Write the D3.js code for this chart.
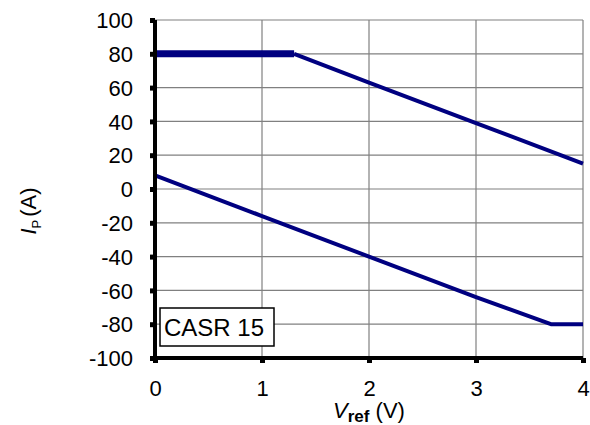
<!DOCTYPE html>
<html>
<head>
<meta charset="utf-8">
<title>CASR 15</title>
<script src="https://cdn.jsdelivr.net/npm/d3@7"></script>
<style>
  body { margin: 0; background: #fff; }
  text { font-family: "Liberation Sans", Arial, sans-serif; fill: #000; }
</style>
</head>
<body>
<script>
  var w = 590, h = 425;
  var margin = {left: 155, right: 7, top: 20, bottom: 67};

  // data
  var xTicks = [0, 1, 2, 3, 4];
  var yTicks = [-100, -80, -60, -40, -20, 0, 20, 40, 60, 80, 100];
  var upperFlatV = [0, 1.3];
  var upperFlatI = [80, 80];
  var upperSlopeV = [1.3, 2, 3, 4];
  var upperSlopeI = [80, 63, 39, 15];
  var lowerV = [0, 1, 2, 3, 3.7, 4];
  var lowerI = [8, -16, -40, -64, -80, -80];
  var labelText = "CASR 15";

  var x = d3.scaleLinear().domain([0, 4]).range([margin.left, w - margin.right]);
  var y = d3.scaleLinear().domain([-100, 100]).range([h - margin.bottom, margin.top]);

  var svg = d3.select("body").append("svg")
      .attr("width", w)
      .attr("height", h);

  // gridlines
  svg.append("g").selectAll("line.gy")
      .data(yTicks)
    .enter().append("line")
      .attr("x1", x(0)).attr("x2", x(4))
      .attr("y1", function(d) { return y(d); })
      .attr("y2", function(d) { return y(d); })
      .style("stroke", "#808080").style("stroke-width", 1.2);

  svg.append("g").selectAll("line.gx")
      .data(xTicks)
    .enter().append("line")
      .attr("y1", y(-100)).attr("y2", y(100))
      .attr("x1", function(d) { return x(d); })
      .attr("x2", function(d) { return x(d); })
      .style("stroke", "#808080").style("stroke-width", 1.2);

  function pts(vs, is) { return vs.map(function(v, i) { return [v, is[i]]; }); }
  var line = d3.line().x(function(d) { return x(d[0]); }).y(function(d) { return y(d[1]); });

  var navy = "#000080";
  svg.append("path").datum(pts(upperFlatV, upperFlatI)).attr("d", line)
      .style("fill", "none").style("stroke", navy).style("stroke-width", 7);
  svg.append("path").datum(pts(upperSlopeV, upperSlopeI)).attr("d", line)
      .style("fill", "none").style("stroke", navy).style("stroke-width", 4)
      .style("stroke-linejoin", "round");
  svg.append("path").datum(pts(lowerV, lowerI)).attr("d", line)
      .style("fill", "none").style("stroke", navy).style("stroke-width", 4)
      .style("stroke-linejoin", "round");

  // axes
  var fmt = function(d) { return String(d); };
  var yAxis = d3.axisLeft(y).tickValues(yTicks).tickFormat(fmt).tickSize(4).tickPadding(18);
  var xAxis = d3.axisBottom(x).tickValues(xTicks).tickFormat(fmt).tickSize(4).tickPadding(21);

  var gy = svg.append("g").attr("transform", "translate(" + margin.left + ",0)").call(yAxis);
  var gx = svg.append("g").attr("transform", "translate(0," + (h - margin.bottom) + ")").call(xAxis);

  [gy, gx].forEach(function(g) {
      g.select(".domain").style("stroke", "#000").style("stroke-width", 4);
      g.selectAll(".tick line").style("stroke", "#000").style("stroke-width", 5);
      g.selectAll(".tick text").style("fill", "#000")
          .style("font-family", "'Liberation Sans', Arial, sans-serif")
          .style("font-size", "22px");
  });
  gy.selectAll(".tick text").attr("dy", "0.35em");
  gx.selectAll(".tick text").attr("dy", null).attr("y", 38);
  gy.select(".domain").attr("d", "M0," + y(100) + "V" + y(-100));
  gx.select(".domain").attr("d", "M" + x(0) + ",0H" + x(4));
  gy.selectAll(".tick line").attr("x2", -5);
  gx.selectAll(".tick line").attr("y2", 5);

  // label box
  var bx = 160, by = 308;
  svg.append("rect").attr("x", bx).attr("y", by).attr("width", 114).attr("height", 38)
      .style("fill", "#fff").style("stroke", "#000").style("stroke-width", 1.5);
  svg.append("text").attr("x", bx + 54).attr("y", by + 28)
      .attr("text-anchor", "middle").style("font-size", "24px").text(labelText);

  // axis titles
  var xt = svg.append("text").attr("x", 369).attr("y", 418).attr("text-anchor", "middle")
      .style("font-size", "22px");
  xt.append("tspan").style("font-style", "italic").text("V");
  xt.append("tspan").attr("dy", 4).style("font-size", "17px").style("font-weight", "bold").text("ref");
  xt.append("tspan").attr("dy", -4).text(" (V)");

  var yt = svg.append("text").attr("transform", "translate(36,211) rotate(-90)")
      .attr("text-anchor", "middle").style("font-size", "22px");
  yt.append("tspan").style("font-style", "italic").text("I");
  yt.append("tspan").attr("dy", 5).style("font-size", "13px").text("P");
  yt.append("tspan").attr("dy", -5).attr("dx", 3).text("(A)");
</script>
</body>
</html>
